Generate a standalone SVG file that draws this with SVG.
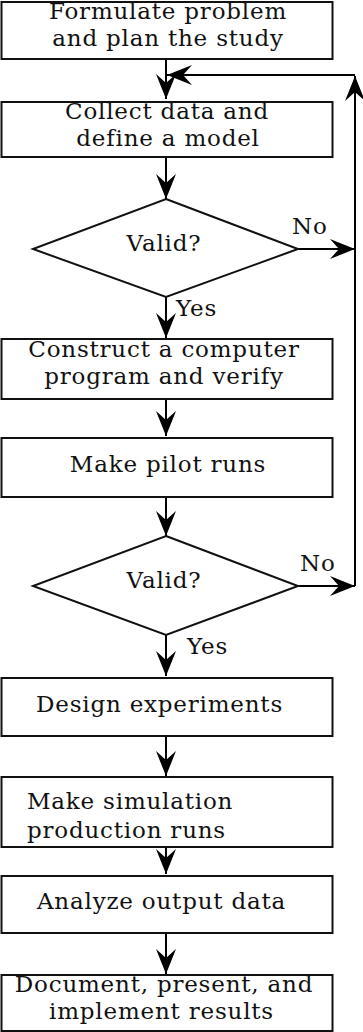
<svg xmlns="http://www.w3.org/2000/svg" width="363" height="1032" viewBox="0 0 363 1032">
  <style>
    .box { fill: #fff; stroke: #111; stroke-width: 2; }
    .dec { fill: #fff; stroke: #111; stroke-width: 2; stroke-linejoin: miter; }
    .lbl { font-family: "DejaVu Serif", "Liberation Serif", serif; font-size: 23px; letter-spacing: 0.8px; fill: #111; text-anchor: middle; }
    .lft { text-anchor: start; }
    .edge { fill: none; stroke: #000; stroke-width: 2; marker-end: url(#ah); }
  </style>
  <defs>
    <!-- notched arrowhead, tip at the end of the line -->
    <marker id="ah" markerUnits="userSpaceOnUse" viewBox="0 0 26 20" markerWidth="26" markerHeight="20" refX="25" refY="10" orient="auto">
      <path d="M0,0 L25,10 L0,20 L9,10 Z" fill="#000"/>
    </marker>
  </defs>

  <rect width="363" height="1032" fill="#fff"/>

  <g id="connectors">
    <line class="edge" x1="166" y1="59" x2="166" y2="99"/>
    <line class="edge" x1="166" y1="157" x2="166" y2="199"/>
    <line class="edge" x1="166" y1="297" x2="166" y2="338"/>
    <line class="edge" x1="166" y1="399" x2="166" y2="436"/>
    <line class="edge" x1="166" y1="497" x2="166" y2="536"/>
    <line class="edge" x1="166" y1="635" x2="166" y2="676"/>
    <line class="edge" x1="166" y1="736" x2="166" y2="776"/>
    <line class="edge" x1="166" y1="832" x2="166" y2="874"/>
    <line class="edge" x1="166" y1="933" x2="166" y2="974"/>
    <!-- "No" branches into the return path -->
    <line class="edge" x1="298" y1="249" x2="355" y2="249"/>
    <line class="edge" x1="298" y1="586" x2="355" y2="586"/>
    <!-- return path back to data collection -->
    <line class="edge" x1="355" y1="586" x2="355" y2="76"/>
    <line class="edge" x1="355" y1="75" x2="167" y2="75"/>
  </g>

  <g id="formulate">
    <rect class="box" x="1.5" y="2" width="331" height="57"/>
    <text class="lbl" x="168" y="19">Formulate problem</text>
    <text class="lbl" x="168" y="46">and plan the study</text>
  </g>

  <g id="collect">
    <rect class="box" x="1.5" y="102" width="331" height="55"/>
    <text class="lbl" x="167" y="119">Collect data and</text>
    <text class="lbl" x="168" y="146">define a model</text>
  </g>

  <g id="valid1">
    <polygon class="dec" points="166,199 298,249 166,297 33,249"/>
    <text class="lbl" x="164" y="251">Valid?</text>
    <text class="lbl lft" x="292" y="234">No</text>
    <text class="lbl lft" x="176" y="316">Yes</text>
  </g>

  <g id="construct">
    <rect class="box" x="1.5" y="339" width="331" height="60"/>
    <text class="lbl" x="164" y="357">Construct a computer</text>
    <text class="lbl" x="164" y="384">program and verify</text>
  </g>

  <g id="pilot">
    <rect class="box" x="1.5" y="438" width="331" height="59"/>
    <text class="lbl" x="168" y="472">Make pilot runs</text>
  </g>

  <g id="valid2">
    <polygon class="dec" points="166,536 298,586 166,635 33,586"/>
    <text class="lbl" x="164" y="588">Valid?</text>
    <text class="lbl lft" x="300" y="571">No</text>
    <text class="lbl lft" x="187" y="654">Yes</text>
  </g>

  <g id="design">
    <rect class="box" x="1.5" y="678" width="331" height="58"/>
    <text class="lbl" x="159.5" y="712">Design experiments</text>
  </g>

  <g id="production">
    <rect class="box" x="1.5" y="777" width="331" height="70"/>
    <text class="lbl lft" x="27" y="809">Make simulation</text>
    <text class="lbl lft" x="27" y="838">production runs</text>
  </g>

  <g id="analyze">
    <rect class="box" x="1.5" y="876" width="331" height="57"/>
    <text class="lbl" x="161.5" y="909">Analyze output data</text>
  </g>

  <g id="document">
    <rect class="box" x="1.5" y="975" width="331" height="56"/>
    <text class="lbl" x="164" y="992">Document, present, and</text>
    <text class="lbl" x="161.5" y="1019">implement results</text>
  </g>
</svg>
